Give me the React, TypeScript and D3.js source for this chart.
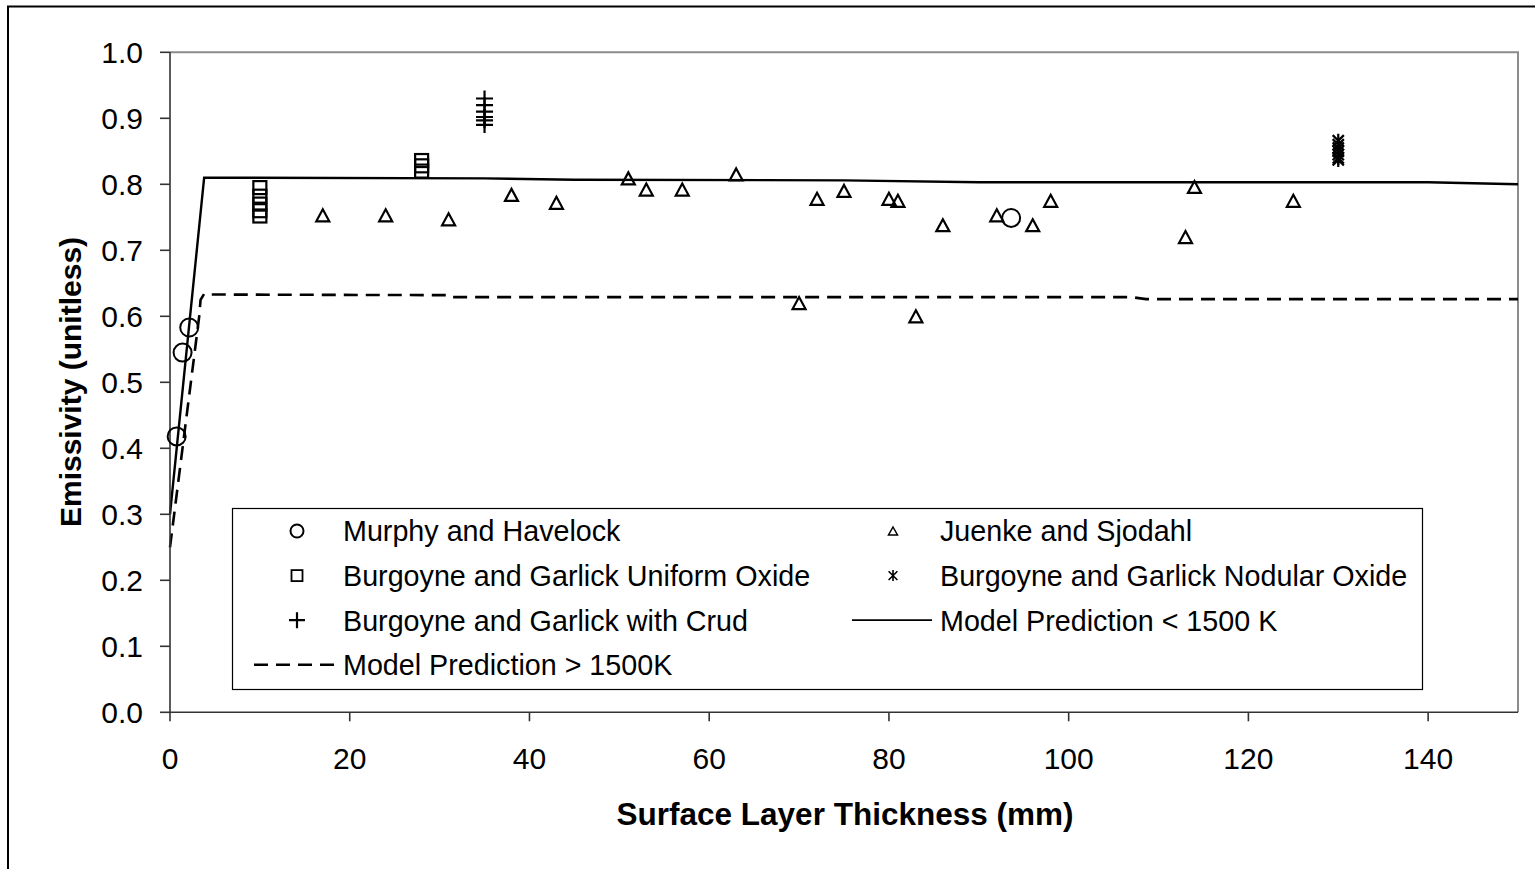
import React from "react";
import * as d3 from "d3";

const xTicks = [0, 20, 40, 60, 80, 100, 120, 140];
const yTicks = [0, 0.1, 0.2, 0.3, 0.4, 0.5, 0.6, 0.7, 0.8, 0.9, 1.0];

const murphyX = [0.74, 1.4, 2.14, 93.6];
const murphyY = [0.418, 0.545, 0.583, 0.749];

const uniformX = [10, 10, 10, 10, 10, 28, 28, 28];
const uniformY = [0.795, 0.782, 0.77, 0.76, 0.752, 0.836, 0.828, 0.82];

const crudX = [35, 35, 35, 35, 35, 35];
const crudY = [0.93, 0.92, 0.91, 0.902, 0.897, 0.89];

const nodularX = [130, 130, 130, 130, 130, 130, 130];
const nodularY = [0.866, 0.86, 0.855, 0.85, 0.845, 0.84, 0.837];

const juenkeX = [17, 24, 31, 38, 43, 51, 53, 57, 63, 70, 72, 75, 80, 81, 83, 86, 92, 96, 98, 113, 114, 125];
const juenkeY = [0.753, 0.753, 0.747, 0.784, 0.772, 0.809, 0.792, 0.792, 0.815, 0.62, 0.778, 0.79, 0.778, 0.775, 0.6, 0.738, 0.753, 0.738, 0.775, 0.72, 0.796, 0.775];

const modelLowX = [0, 3.8, 35, 45, 75, 90, 140, 150];
const modelLowY = [0.3, 0.81, 0.809, 0.807, 0.806, 0.803, 0.803, 0.8];

const modelHighX = [0, 3.25, 3.4, 3.8, 4.5, 31, 31.3, 107, 108.6, 150];
const modelHighY = [0.25, 0.6, 0.625, 0.634, 0.633, 0.632, 0.629, 0.629, 0.626, 0.626];

const legendLabels = [
  "Murphy and Havelock",
  "Juenke and Sjodahl",
  "Burgoyne and Garlick Uniform Oxide",
  "Burgoyne and Garlick Nodular Oxide",
  "Burgoyne and Garlick with Crud",
  "Model Prediction < 1500 K",
  "Model Prediction > 1500K",
];

const FONT = "Arial, 'Liberation Sans', sans-serif";

const x = d3.scaleLinear().domain([0, 150]).range([170, 1518]);
const y = d3.scaleLinear().domain([0, 1]).range([712.3, 52.3]);

function Circle({ cx, cy, r }: { cx: number; cy: number; r: number }) {
  return <circle cx={cx} cy={cy} r={r} fill="none" stroke="#000" strokeWidth={2} />;
}
function Square({ cx, cy, s, sw }: { cx: number; cy: number; s: number; sw: number }) {
  return <rect x={cx - s / 2} y={cy - s / 2} width={s} height={s} fill="none" stroke="#000" strokeWidth={sw} />;
}
function Plus({ cx, cy, w, h }: { cx: number; cy: number; w: number; h: number }) {
  return (
    <path d={`M${cx - w / 2},${cy}H${cx + w / 2}M${cx},${cy - h / 2}V${cy + h / 2}`} stroke="#000" strokeWidth={2.2} fill="none" />
  );
}
function Tri({ cx, cy, w, h, sw }: { cx: number; cy: number; w: number; h: number; sw: number }) {
  return (
    <path
      d={`M${cx},${cy - h / 2}L${cx + w / 2},${cy + h / 2}L${cx - w / 2},${cy + h / 2}Z`}
      fill="none"
      stroke="#000"
      strokeWidth={sw}
      strokeLinejoin="miter"
    />
  );
}
function Star({ cx, cy, s, sw }: { cx: number; cy: number; s: number; sw: number }) {
  const a = s / 2;
  return (
    <path
      d={`M${cx},${cy - a}V${cy + a}M${cx - a * 0.8},${cy - a * 0.8}L${cx + a * 0.8},${cy + a * 0.8}M${cx + a * 0.8},${cy - a * 0.8}L${cx - a * 0.8},${cy + a * 0.8}`}
      stroke="#000"
      strokeWidth={sw}
      fill="none"
    />
  );
}

export default function App() {
  const line = d3
    .line<[number, number]>()
    .x((d) => x(d[0]))
    .y((d) => y(d[1]));
  const lowPts = modelLowX.map((v, i) => [v, modelLowY[i]] as [number, number]);
  const highPts = modelHighX.map((v, i) => [v, modelHighY[i]] as [number, number]);

  const legX1 = 297;
  const legX2 = 893;
  const rowY = (i: number) => 531 + i * 44.6;

  return (
    <svg
      width={1535}
      height={869}
      style={{ position: "absolute", left: 0, top: 0, background: "#fff" }}
      fontFamily={FONT}
    >
      <rect x={0} y={0} width={1535} height={869} fill="#fff" />
      <rect x={8} y={6.5} width={1600} height={1000} fill="none" stroke="#000" strokeWidth={2} />

      {/* plot area border */}
      <path d={`M${x(0)},${y(1)}H${x(150)}V${y(0)}`} fill="none" stroke="#8c8c8c" strokeWidth={2} />

      {/* model lines */}
      <path d={line(lowPts) || ""} fill="none" stroke="#000" strokeWidth={2.4} />
      <path d={line(highPts) || ""} fill="none" stroke="#000" strokeWidth={2.6} strokeDasharray="14 8" />

      {/* axes */}
      <line x1={x(0)} x2={x(0)} y1={y(1)} y2={y(0)} stroke="#333" strokeWidth={1.6} />
      <line x1={x(0)} x2={x(150)} y1={y(0)} y2={y(0)} stroke="#333" strokeWidth={1.6} />
      {yTicks.map((t) => (
        <g key={"y" + t}>
          <line x1={x(0) - 10} x2={x(0)} y1={y(t)} y2={y(t)} stroke="#333" strokeWidth={1.6} />
          <text x={143} y={y(t)} dy="0.36em" textAnchor="end" fontSize={30} fill="#000">
            {t.toFixed(1)}
          </text>
        </g>
      ))}
      {xTicks.map((t) => (
        <g key={"x" + t}>
          <line x1={x(t)} x2={x(t)} y1={y(0)} y2={y(0) + 9} stroke="#333" strokeWidth={1.6} />
          <text x={x(t)} y={769} textAnchor="middle" fontSize={30} fill="#000">
            {t}
          </text>
        </g>
      ))}

      {/* axis titles */}
      <text x={845} y={825} textAnchor="middle" fontSize={31.5} fontWeight="bold" fill="#000">
        Surface Layer Thickness (mm)
      </text>
      <text
        transform={`translate(81,382) rotate(-90)`}
        textAnchor="middle"
        fontSize={30}
        fontWeight="bold"
        fill="#000"
      >
        Emissivity (unitless)
      </text>

      {/* data */}
      {uniformX.map((v, i) => (
        <Square key={"s" + i} cx={x(v)} cy={y(uniformY[i])} s={13} sw={2.2} />
      ))}
      {crudX.map((v, i) => (
        <Plus key={"p" + i} cx={x(v)} cy={y(crudY[i])} w={17} h={16} />
      ))}
      {nodularX.map((v, i) => (
        <Star key={"n" + i} cx={x(v)} cy={y(nodularY[i])} s={14} sw={2.2} />
      ))}
      {juenkeX.map((v, i) => (
        <Tri key={"t" + i} cx={x(v)} cy={y(juenkeY[i])} w={13} h={12} sw={2.2} />
      ))}
      {murphyX.map((v, i) => (
        <Circle key={"c" + i} cx={x(v)} cy={y(murphyY[i])} r={9} />
      ))}

      {/* legend */}
      <rect x={232.5} y={508.5} width={1190} height={181} fill="#fff" stroke="#000" strokeWidth={1.2} />
      <Circle cx={legX1} cy={rowY(0)} r={6.5} />
      <Tri cx={legX2} cy={rowY(0)} w={9} h={8} sw={1.5} />
      <Square cx={legX1} cy={rowY(1)} s={11} sw={1.8} />
      <Star cx={legX2} cy={rowY(1)} s={11} sw={1.6} />
      <Plus cx={legX1} cy={rowY(2)} w={16} h={16} />
      <line x1={852} x2={932} y1={rowY(2)} y2={rowY(2)} stroke="#000" strokeWidth={1.8} />
      <line x1={254} x2={340} y1={rowY(3)} y2={rowY(3)} stroke="#000" strokeWidth={2.4} strokeDasharray="14 8" />
      {legendLabels.map((lab, i) => {
        const col = i % 2;
        const row = Math.floor(i / 2);
        return (
          <text key={lab} x={col === 0 ? 343 : 940} y={rowY(row)} dy="0.36em" fontSize={28.7} fill="#000">
            {lab}
          </text>
        );
      })}
    </svg>
  );
}
